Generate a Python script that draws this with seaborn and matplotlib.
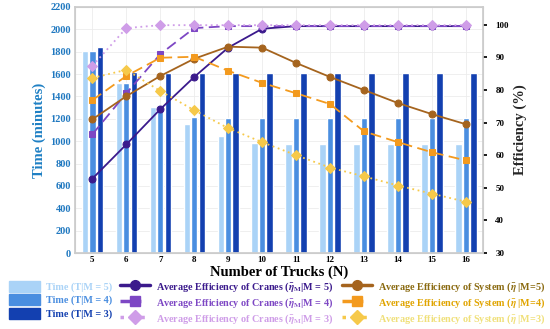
import numpy as np
import pandas as pd
import matplotlib
matplotlib.use("Agg")
import matplotlib.pyplot as plt
import seaborn as sns
from matplotlib.lines import Line2D
from matplotlib.patches import Patch

trucks = [5, 6, 7, 8, 9, 10, 11, 12, 13, 14, 15, 16]
time_m5 = [1810, 1520, 1305, 1150, 1045, 985, 975, 975, 975, 975, 975, 975]
time_m4 = [1810, 1520, 1320, 1220, 1210, 1210, 1210, 1210, 1210, 1210, 1210, 1210]
time_m3 = [1840, 1620, 1610, 1610, 1610, 1610, 1610, 1610, 1610, 1610, 1610, 1610]

crane_m5 = [52.8, 63.3, 74.1, 84.0, 93.0, 98.8, 99.6, 99.6, 99.6, 99.6, 99.6, 99.6]
crane_m4 = [66.4, 79.0, 91.0, 99.0, 99.6, 99.6, 99.6, 99.6, 99.6, 99.6, 99.6, 99.6]
crane_m3 = [87.4, 99.0, 99.9, 99.9, 99.9, 99.9, 99.9, 99.9, 99.9, 99.9, 99.9, 99.9]

sys_m5 = [71.0, 78.1, 84.3, 89.6, 93.3, 93.0, 88.3, 84.0, 80.0, 76.0, 72.6, 69.5]
sys_m4 = [76.9, 84.3, 89.9, 90.2, 85.9, 82.2, 79.0, 75.7, 67.3, 64.0, 60.9, 58.4]
sys_m3 = [83.7, 86.2, 79.7, 73.8, 68.3, 64.0, 60.0, 56.2, 53.5, 50.7, 48.2, 45.7]

bar_labels = ["Time (T|M = 5)", "Time (T|M = 4)", "Time (T|M = 3)"]
crane_labels = [r"Average Efficiency of Cranes ($\bar{\eta}_{\mathbf{M}}$|M = 5)",
                r"Average Efficiency of Cranes ($\bar{\eta}_{\mathbf{M}}$|M = 4)",
                r"Average Efficiency of Cranes ($\bar{\eta}_{\mathbf{M}}$|M = 3)"]
sys_labels = [r"Average Efficiency of System ($\bar{\eta}$ |M=5)",
              r"Average Efficiency of System ($\bar{\eta}$ |M=4)",
              r"Average Efficiency of System ($\bar{\eta}$ |M=3)"]

sns.set_theme(style="whitegrid")
plt.rcParams['font.family'] = ['Liberation Serif', 'DejaVu Serif']
plt.rcParams['mathtext.fontset'] = 'stix'
plt.rcParams['font.weight'] = 'bold'

bar_colors = ['#aad3f7', '#4a8ee0', '#1340b0']
crane_colors = ['#3b1a8c', '#7d47c4', '#cf9de8']
sys_colors = ['#a5641e', '#f39a1e', '#f6c94a']

df = pd.DataFrame({
    'N': trucks * 3,
    'time': time_m5 + time_m4 + time_m3,
    'M': ['M5'] * 12 + ['M4'] * 12 + ['M3'] * 12,
})

fig = plt.figure(figsize=(5.5, 3.29), dpi=100)
ax = fig.add_axes([0.137, 0.231, 0.741, 0.748])
sns.barplot(data=df, x='N', y='time', hue='M', hue_order=['M5', 'M4', 'M3'],
            palette=bar_colors, native_scale=True, width=0.66, gap=0.15,
            ax=ax, legend=False, saturation=1)
ax.set_xlim(4.5, 16.5)
ax.set_ylim(0, 2200)
ax.set_yticks(np.arange(0, 2201, 200))
ax.set_xticks(trucks)
ax.grid(True, color='#ececec', linewidth=0.6)
ax.set_axisbelow(True)
for s in ax.spines.values():
    s.set_color('#cccccc')
    s.set_linewidth(0.8)
ax.tick_params(axis='y', labelsize=7.5, colors='#1f78c0', pad=3, length=0)
ax.tick_params(axis='x', labelsize=6.5, colors='black', pad=2, length=0)
for t in ax.get_yticklabels() + ax.get_xticklabels():
    t.set_fontweight('bold')
ax.set_ylabel("Time (minutes)", fontsize=10.5, fontweight='bold', color='#1f80c4', labelpad=3)
ax.set_xlabel("Number of Trucks (N)", fontsize=10.5, fontweight='bold', color='black', labelpad=1)

ax2 = ax.twinx()
ax2.set_ylim(30, 105.5)
ax2.grid(False)
styles = [('-', 'o', 5), ((0, (6, 3)), 's', 5), ((0, (1, 2)), 'D', 5)]
for vals, col, (ls, mk, ms) in zip([crane_m5, crane_m4, crane_m3], crane_colors, styles):
    sns.lineplot(x=trucks, y=vals, ax=ax2, color=col, linestyle=ls, marker=mk,
                 markersize=ms, markeredgecolor=col, linewidth=1.3)
for vals, col, (ls, mk, ms) in zip([sys_m5, sys_m4, sys_m3], sys_colors, styles):
    sns.lineplot(x=trucks, y=vals, ax=ax2, color=col, linestyle=ls, marker=mk,
                 markersize=ms, markeredgecolor=col, linewidth=1.3)
ax2.set_yticks(np.arange(30, 101, 10))
ax2.tick_params(axis='y', labelsize=6.5, colors='black', length=3, pad=6)
for t in ax2.get_yticklabels():
    t.set_fontweight('bold')
ax2.set_ylabel("Efficiency (%)", fontsize=10.5, fontweight='bold', labelpad=3)
for s in ax2.spines.values():
    s.set_color('#cccccc')

handles = [Patch(color=c) for c in bar_colors]
handles += [Line2D([0], [0], color=c, linestyle=ls, marker=mk, markersize=7, linewidth=2.5)
            for c, (ls, mk, ms) in zip(crane_colors, styles)]
handles += [Line2D([0], [0], color=c, linestyle=ls, marker=mk, markersize=7, linewidth=2.5)
            for c, (ls, mk, ms) in zip(sys_colors, styles)]
labels = bar_labels + crane_labels + sys_labels
leg = fig.legend(handles, labels, ncol=3, loc='lower left', bbox_to_anchor=(0.0, -0.018),
                 frameon=False, fontsize=7.3, handlelength=3.0, handleheight=1.3,
                 columnspacing=0.8, handletextpad=0.6, labelspacing=0.25)
text_colors = bar_colors + crane_colors + ['#8a6a10', '#e0a400', '#f0e07a']
for t, c in zip(leg.get_texts(), text_colors):
    t.set_color(c)
    t.set_fontweight('bold')

fig.savefig("out.png", dpi=100)
